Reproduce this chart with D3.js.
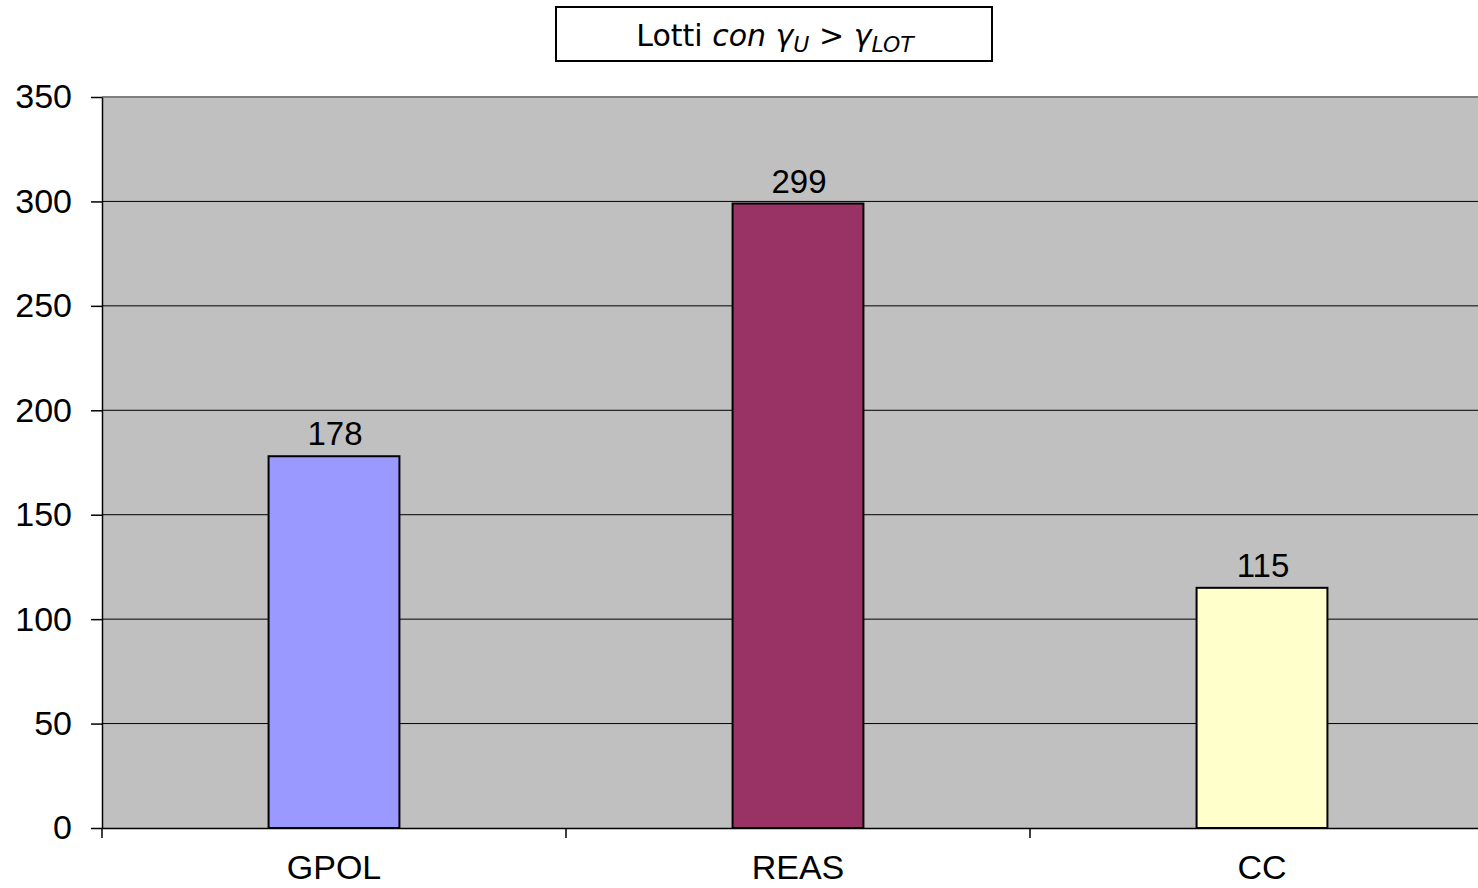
<!DOCTYPE html>
<html><head><meta charset="utf-8">
<script src="https://cdn.jsdelivr.net/npm/d3@7"></script>
<style>body{margin:0;background:#fff}svg{display:block}</style>
</head><body>
<svg id="c" width="1478" height="888"></svg>
<script>
const categories = ["GPOL", "REAS", "CC"];
const values = [178, 299, 115];
const colors = ["#9999FF", "#993366", "#FFFFCC"];
const yTicks = [0, 50, 100, 150, 200, 250, 300, 350];

(function () {
const svg = d3.select("#c");
const pL = 102, pR = 1494, pT = 97, pB = 828;
const x = d3.scaleBand().domain(categories).range([pL, pR]).paddingInner(0).paddingOuter(0);
const y = d3.scaleLinear().domain([0, 350]).range([pB, pT]);
const FF = "Liberation Sans, Arial, sans-serif";

svg.append("rect").attr("x", pL).attr("y", pT).attr("width", pR - pL).attr("height", pB - pT).attr("fill", "#C0C0C0");
svg.append("line").attr("x1", pL).attr("x2", pR).attr("y1", pT).attr("y2", pT).attr("stroke", "#808080").attr("stroke-width", 2);

svg.append("g").selectAll("line").data(yTicks.filter(d => d > 0 && d < 350)).join("line")
  .attr("x1", pL).attr("x2", pR).attr("y1", d => y(d)).attr("y2", d => y(d))
  .attr("stroke", "#000").attr("stroke-width", 1);

const bw = x.bandwidth() * 0.282;
svg.append("g").selectAll("rect").data(values).join("rect")
  .attr("x", (d, i) => x(categories[i]) + x.bandwidth() / 2 - bw / 2)
  .attr("y", d => y(d)).attr("width", bw).attr("height", d => y(0) - y(d))
  .attr("fill", (d, i) => colors[i]).attr("stroke", "#000").attr("stroke-width", 2);

svg.append("g").selectAll("text").data(values).join("text")
  .attr("x", (d, i) => x(categories[i]) + x.bandwidth() / 2 + 1)
  .attr("y", d => y(d) - 11)
  .attr("text-anchor", "middle").attr("font-family", FF)
  .attr("font-size", 33).attr("fill", "#000").text(d => d);

// y axis
const ya = svg.append("g").attr("transform", `translate(${pL},0)`)
  .call(d3.axisLeft(y).tickValues(yTicks).tickSize(11).tickPadding(19).tickSizeOuter(0));
ya.select(".domain").attr("stroke", "#000").attr("stroke-width", 1.5);
ya.selectAll(".tick line").attr("stroke", "#000").attr("stroke-width", 1.5);
ya.selectAll("text").attr("font-family", FF).attr("font-size", 34).attr("fill", "#000").attr("dy", "0.32em");

// x axis
const xa = svg.append("g").attr("transform", `translate(0,${pB})`)
  .call(d3.axisBottom(x).tickSize(0).tickPadding(27));
xa.select(".domain").attr("stroke", "#000").attr("stroke-width", 1.5);
xa.selectAll("text").attr("font-family", FF).attr("font-size", 34).attr("fill", "#000").attr("dy", "0.71em");
svg.append("g").selectAll("line").data(categories).join("line")
  .attr("x1", d => x(d)).attr("x2", d => x(d)).attr("y1", pB).attr("y2", pB + 10)
  .attr("stroke", "#000").attr("stroke-width", 1.5);

// title
svg.append("rect").attr("x", 556).attr("y", 7).attr("width", 436).attr("height", 54)
  .attr("fill", "#fff").attr("stroke", "#000").attr("stroke-width", 2);
const t = svg.append("text").attr("x", 775).attr("y", 46).attr("text-anchor", "middle")
  .attr("font-family", "DejaVu Sans, Verdana, sans-serif").attr("font-size", 30).attr("fill", "#000");
t.append("tspan").text("Lotti ");
t.append("tspan").attr("font-style", "italic").text("con γ");
t.append("tspan").attr("font-style", "italic").attr("font-size", 22).attr("dy", 6).text("U");
t.append("tspan").attr("dy", -6).text("  >  ");
t.append("tspan").attr("font-style", "italic").text("γ");
t.append("tspan").attr("font-style", "italic").attr("font-size", 22).attr("dy", 6).text("LOT");
})();
</script>
</body></html>
